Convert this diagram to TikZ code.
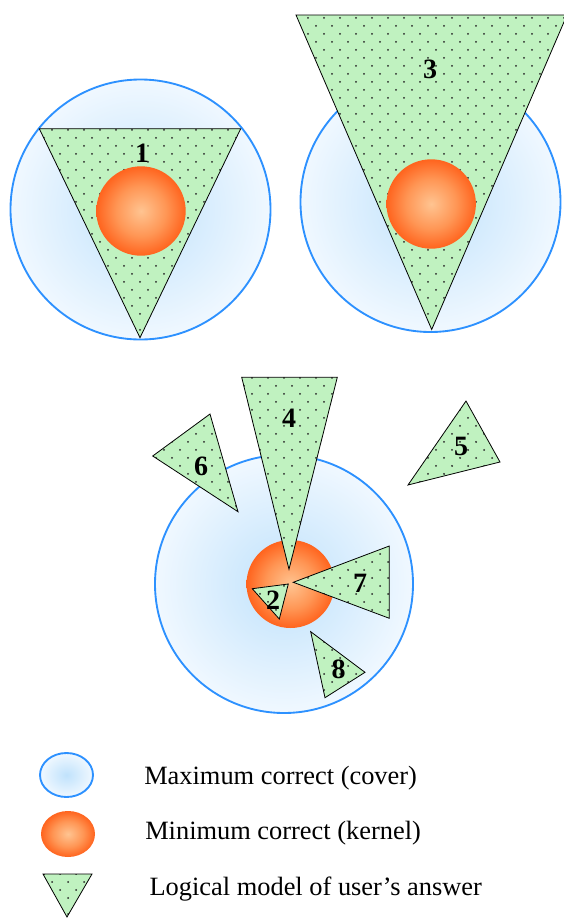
\documentclass[tikz,border=0pt]{standalone}
\usepackage{fontspec}
\setmainfont{Liberation Serif}
\usetikzlibrary{patterns}
\definecolor{coverblue}{RGB}{45,145,255}
\definecolor{covin}{RGB}{192,226,252}
\definecolor{covout}{RGB}{240,248,255}
\definecolor{kerin}{RGB}{255,196,145}
\definecolor{kermid}{RGB}{255,150,85}
\definecolor{kerout}{RGB}{255,100,30}
\definecolor{answergreen}{RGB}{192,242,192}
\pgfdeclarepatternformonly{answerdots}{\pgfqpoint{-1pt}{-1pt}}{\pgfqpoint{13pt}{13pt}}{\pgfqpoint{12pt}{12pt}}{%
  \pgfpathcircle{\pgfqpoint{3pt}{3pt}}{0.75pt}%
  \pgfpathcircle{\pgfqpoint{9pt}{9pt}}{0.75pt}%
  \pgfusepath{fill}}
\pgfdeclareradialshading{coverfill}{\pgfpointorigin}{color(0bp)=(covin); color(25bp)=(covout); color(50bp)=(covout)}
\pgfdeclareradialshading{kernelfill}{\pgfpointorigin}{color(0bp)=(kerin); color(14bp)=(kermid); color(25bp)=(kerout); color(50bp)=(kerout)}

\begin{document}
\begin{tikzpicture}[x=0.75pt,y=-0.75pt,
  cover/.style={draw=coverblue,line width=1.4pt,shade,shading=coverfill},
  kernel/.style={shade,shading=kernelfill},
  answer/.style={draw,line width=0.6pt,preaction={fill=answergreen},pattern=answerdots,pattern color=black!85},
  num/.style={font=\fontsize{21}{24}\selectfont\bfseries,inner sep=0pt},
  legend/.style={font=\fontsize{19.8}{23}\selectfont,inner sep=0pt,anchor=base west}]
  \useasboundingbox (0,0) rectangle (564,918);
  % answer inside the cover, around the kernel
  \path[cover] (140.5,209.5) circle[radius=130];
  \path[answer] (39.3,128.7) -- (240.7,128.7) -- (140,337.7) -- cycle;
  \path[kernel] (141,211) circle[radius=44.7];
  \node[num] (n1) at (142,153) {1};
  % answer larger than the cover
  \path[cover] (430.5,202) circle[radius=130];
  \path[answer] (296,15) -- (567,15) -- (431.7,329.5) -- cycle;
  \path[kernel] (431.2,204) circle[radius=44.7];
  \node[num] (n3) at (430,69) {3};
  % the other cases
  \path[cover] (284,584) circle[radius=129];
  \path[kernel] (290.5,584) circle[radius=44];
  \path[answer] (241.7,377.3) -- (337.3,377.3) -- (289,569.3) -- cycle;
  \path[answer] (210,414) -- (238,511.7) -- (152.7,456) -- cycle;
  \path[answer] (466,401) -- (500,462) -- (408,485) -- cycle;
  \path[answer] (389.3,546) -- (389.3,618.3) -- (293.3,582.3) -- cycle;
  \path[answer] (252.3,588.7) -- (288.3,584) -- (279.3,619) -- cycle;
  \path[answer] (310.7,631.7) -- (365,672.3) -- (325,697.7) -- cycle;
  \node[num] (n4) at (289,418) {4};
  \node[num] (n5) at (461,446) {5};
  \node[num] (n6) at (201,466) {6};
  \node[num] (n7) at (360,583.5) {7};
  \node[num] (n2) at (273,600) {2};
  \node[num] (n8) at (338.5,669.5) {8};
  % legend
  \path[cover] (66.5,775) ellipse[x radius=26.5,y radius=22];
  \path[kernel] (68,834) ellipse[x radius=27,y radius=23];
  \path[answer] (43,874) -- (92,874) -- (67,917) -- cycle;
  \node[legend] (lcover) at (144,784.3) {Maximum correct (cover)};
  \node[legend] (lkernel) at (145,839.5) {Minimum correct (kernel)};
  \node[legend] (lanswer) at (149.3,895.7) {Logical model of user's answer};
\end{tikzpicture}
\end{document}
